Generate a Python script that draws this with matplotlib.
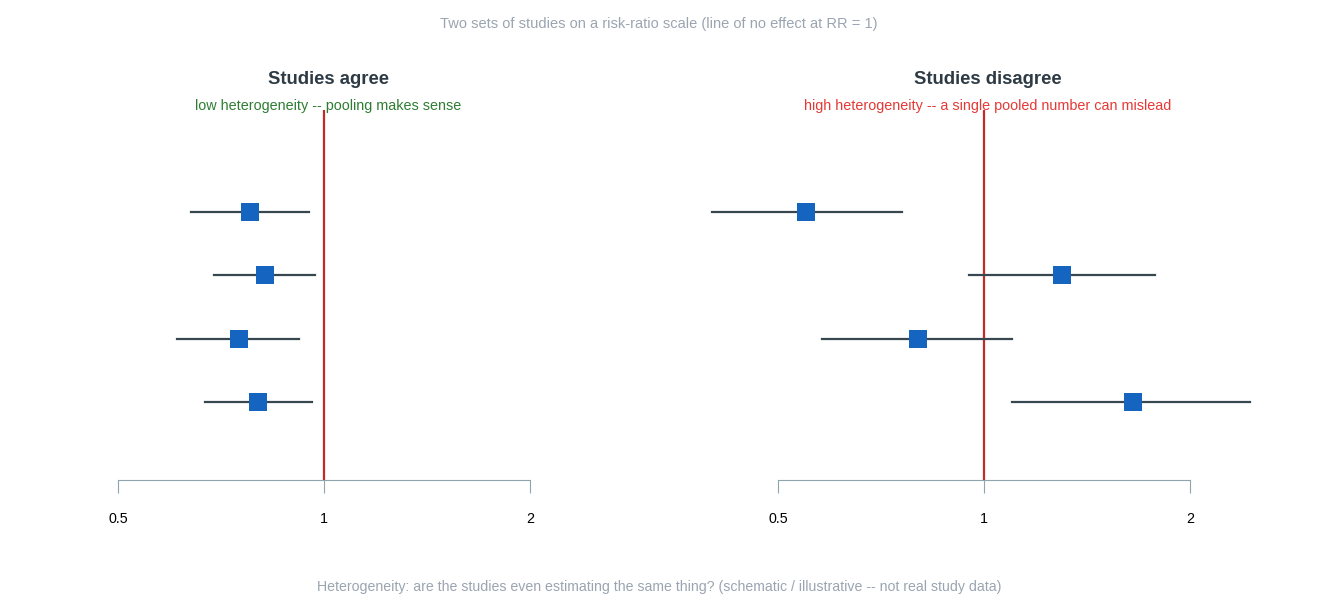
import matplotlib.pyplot as plt
import matplotlib.ticker as mticker

plt.rcParams['font.family'] = ['Liberation Sans', 'DejaVu Sans']

# risk ratios (top row first)
rows = [4, 3, 2, 1]
agree_rr = [0.78, 0.82, 0.75, 0.80]
agree_lo = [0.64, 0.69, 0.61, 0.67]
agree_hi = [0.95, 0.97, 0.92, 0.96]

disagree_rr = [0.55, 1.30, 0.80, 1.65]
disagree_lo = [0.40, 0.95, 0.58, 1.10]
disagree_hi = [0.76, 1.78, 1.10, 2.45]

ticks = [0.5, 1, 2]
tick_labels = ["0.5", "1", "2"]

W, H = 1320, 600
fig = plt.figure(figsize=(W / 100, H / 100), dpi=100)


def px_axes(x0, x1, y_top, y_bot):
    return fig.add_axes([x0 / W, 1 - y_bot / H, (x1 - x0) / W, (y_bot - y_top) / H])


def panel(ax, rr, lo, hi, title, subtitle, sub_color):
    ax.set_xscale("log")
    ax.set_xlim(0.5, 2)
    ax.set_ylim(-0.23, 5.61)
    ax.axvline(1, color="#C62828", lw=1.6, zorder=1)
    for y, r, l, h in zip(rows, rr, lo, hi):
        ax.plot([l, h], [y, y], color="#37474F", lw=1.6, clip_on=False, zorder=2)
        ax.plot(r, y, marker="s", ms=13.3, color="#1565C0", mec="#1565C0",
                mew=0, clip_on=False, zorder=3)
    for s in ("top", "left", "right"):
        ax.spines[s].set_visible(False)
    ax.spines["bottom"].set_color("#90A4AE")
    ax.set_yticks([])
    ax.xaxis.set_major_locator(mticker.FixedLocator(ticks))
    ax.xaxis.set_minor_locator(mticker.NullLocator())
    ax.set_xticklabels(tick_labels)
    ax.tick_params(axis="x", length=9, color="#90A4AE", pad=14, labelsize=10.3,
                   labelcolor="black")
    ax.text(0.51, 1 + (110 - 79.5) / 370, title, transform=ax.transAxes,
            ha="center", va="center", fontsize=13.3, fontweight="bold", color="#2E3B45")
    ax.text(0.51, 1 + (110 - 106) / 370, subtitle, transform=ax.transAxes,
            ha="center", va="center", fontsize=10.4, color=sub_color)


ax1 = px_axes(118, 530, 110, 480)
panel(ax1, agree_rr, agree_lo, agree_hi, "Studies agree",
      "low heterogeneity -- pooling makes sense", "#2E7D32")

ax2 = px_axes(778, 1190, 110, 480)
panel(ax2, disagree_rr, disagree_lo, disagree_hi, "Studies disagree",
      "high heterogeneity -- a single pooled number can mislead", "#E53935")

fig.text(659 / W, 1 - 24 / H, "Two sets of studies on a risk-ratio scale (line of no effect at RR = 1)",
         ha="center", va="center", fontsize=10.5, color="#9AA5B1")
fig.text(659 / W, 1 - 587 / H,
         "Heterogeneity: are the studies even estimating the same thing? (schematic / illustrative -- not real study data)",
         ha="center", va="center", fontsize=10.2, color="#9AA5B1")

fig.savefig("out.png", dpi=100, facecolor="white")
